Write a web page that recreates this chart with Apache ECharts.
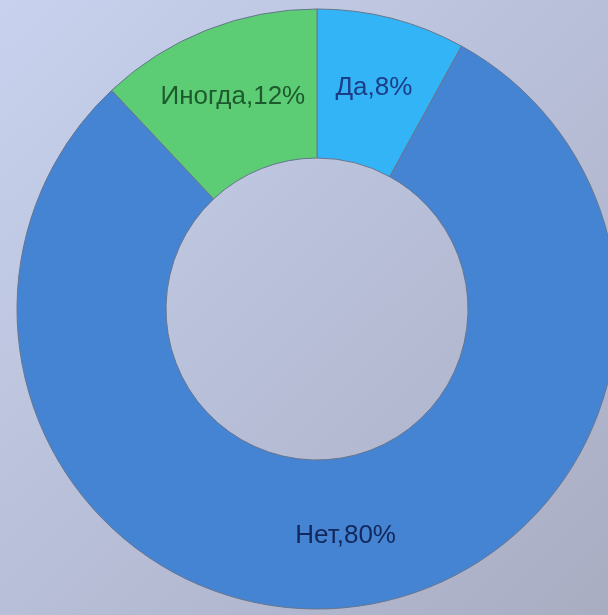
<!DOCTYPE html>
<html>
<head>
<meta charset="utf-8">
<script src="https://cdn.jsdelivr.net/npm/echarts@6/dist/echarts.min.js"></script>
<style>
    html, body { margin: 0; padding: 0; }
    #chart { width: 608px; height: 615px; }
</style>
</head>
<body>
<div id="chart"></div>
<script>
    // данные опроса
    var categories = ['Да', 'Нет', 'Иногда'];
    var values = [8, 80, 12];
    var sliceColors = ['#33b4f7', '#4584d3', '#5ccd74'];
    var labelColors = ['#1c3c86', '#13275a', '#1d5a2e'];

    var myChart = echarts.init(document.getElementById('chart'));
    var option = {
        backgroundColor: new echarts.graphic.LinearGradient(0, 0, 1, 1, [{
            offset: 0,
            color: '#c8d2ee'
        }, {
            offset: 0.5,
            color: '#b8bfd8'
        }, {
            offset: 1,
            color: '#a9adc2'
        }], false),
        series: [{
            type: 'pie',
            center: [317, 309],
            radius: [151, 300],
            startAngle: 90,
            clockwise: true,
            silent: true,
            animation: false,
            itemStyle: {
                borderColor: '#66768f',
                borderWidth: 1
            },
            label: {
                position: 'inside',
                fontFamily: 'Liberation Sans, Arial, sans-serif',
                fontSize: 26,
                formatter: function (p) {
                    return p.name + ',' + p.value + '%';
                }
            },
            labelLine: { show: false },
            data: categories.map(function (name, i) {
                return {
                    name: name,
                    value: values[i],
                    itemStyle: { color: sliceColors[i] },
                    label: { color: labelColors[i] }
                };
            })
        }]
    };
    myChart.setOption(option);
</script>
</body>
</html>
